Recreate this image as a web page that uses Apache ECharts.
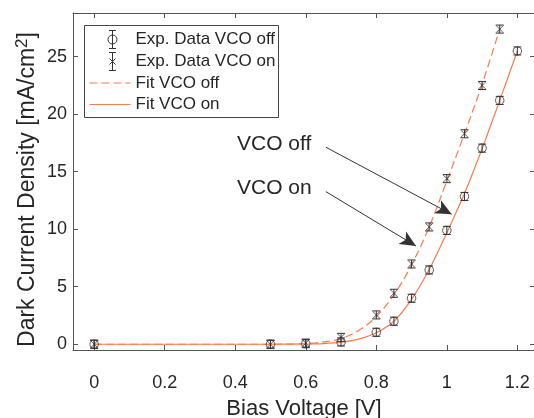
<!DOCTYPE html>
<html>
<head>
<meta charset="utf-8">
<script src="https://cdn.jsdelivr.net/npm/echarts@6/dist/echarts.min.js"></script>
<style>html,body{margin:0;padding:0;background:#fff;}#chart{width:534px;height:418px;}</style>
</head>
<body>
<div id="chart"></div>
<script>
// ---- data ----
const xTicks = [0, 0.2, 0.4, 0.6, 0.8, 1, 1.2];
const yTicks = [0, 5, 10, 15, 20, 25];

const xExpOff = [0, 0.5, 0.6, 0.7, 0.8, 0.85, 0.9, 0.95, 1.0, 1.05, 1.1, 1.15, 1.2];
const expOff  = [0, 0, 0.05, 0.2, 1.04, 2.0, 4.0, 6.46, 9.9, 12.85, 17.05, 21.2, 25.5];
const errOff  = [0.35, 0.35, 0.35, 0.35, 0.35, 0.35, 0.35, 0.35, 0.35, 0.35, 0.35, 0.35, 0.35];

const xExpOn = [0, 0.5, 0.6, 0.7, 0.8, 0.85, 0.9, 0.95, 1.0, 1.05, 1.1, 1.15];
const expOn  = [0, 0, 0.1, 0.6, 2.55, 4.43, 6.98, 10.2, 14.4, 18.3, 22.5, 27.4];
const errOn  = [0.35, 0.35, 0.35, 0.35, 0.35, 0.35, 0.35, 0.35, 0.35, 0.35, 0.35, 0.35];

const xFitOff = [0, 0.5, 0.6, 0.65, 0.7, 0.75, 0.8, 0.85, 0.9, 0.95, 1.0, 1.05, 1.1, 1.15, 1.2];
const fitOff  = [0, 0, 0.02, 0.06, 0.18, 0.45, 1.0, 2.0, 3.9, 6.5, 9.7, 13.1, 17.0, 21.2, 25.5];

const xFitOn = [0, 0.5, 0.6, 0.65, 0.7, 0.75, 0.8, 0.85, 0.9, 0.95, 1.0, 1.05, 1.1, 1.15];
const fitOn  = [0, 0, 0.05, 0.2, 0.5, 1.2, 2.4, 4.3, 6.9, 10.2, 14.2, 18.3, 22.6, 27.4];

const names = ['Exp. Data VCO off', 'Exp. Data VCO on', 'Fit VCO off', 'Fit VCO on'];
const annoText = ['VCO off', 'VCO on'];
const arrowOff = [[0.657, 17.13], [1.0137, 11.3]];
const arrowOn  = [[0.657, 13.27], [0.9125, 8.54]];

// ---- chart ----
const FONT = '"Liberation Sans", Arial, sans-serif';
const TXT = '#262626';
const AX = '#555';
const FITC = '#ff7a4d';
const MK = '#333';

const zip = (xs, ys) => xs.map((x, i) => [x, ys[i]]);
const zip3 = (xs, ys, es) => xs.map((x, i) => [x, ys[i], es[i]]);

function errRender(params, api) {
  const x = api.value(0), y = api.value(1), e = api.value(2);
  const t = api.coord([x, y + e]), b = api.coord([x, y - e]);
  const hw = 4;
  const st = { stroke: MK, lineWidth: 1 };
  return { type: 'group', children: [
    { type: 'line', shape: { x1: t[0], y1: t[1], x2: b[0], y2: b[1] }, style: st },
    { type: 'line', shape: { x1: t[0] - hw, y1: t[1], x2: t[0] + hw, y2: t[1] }, style: st },
    { type: 'line', shape: { x1: b[0] - hw, y1: b[1], x2: b[0] + hw, y2: b[1] }, style: st }
  ]};
}

const xSym = 'path://M0,0 L10,10 M10,0 L0,10';

// legend drawn as graphic elements (positions relative to legend box)
const lst = { stroke: MK, lineWidth: 1, fill: 'none' };
const legendRows = [14, 36, 57.5, 79];
function legendItems() {
  const c = [];
  c.push({ type: 'rect', shape: { x: 0, y: 0, width: 194, height: 92 }, style: { fill: '#fff', stroke: '#444', lineWidth: 1 } });
  let y = legendRows[0];
  c.push({ type: 'line', shape: { x1: 28, y1: y - 9, x2: 28, y2: y + 9 }, style: lst });
  c.push({ type: 'line', shape: { x1: 24.5, y1: y - 9, x2: 31.5, y2: y - 9 }, style: lst });
  c.push({ type: 'line', shape: { x1: 24.5, y1: y + 9, x2: 31.5, y2: y + 9 }, style: lst });
  c.push({ type: 'circle', shape: { cx: 28, cy: y, r: 4.5 }, style: lst });
  y = legendRows[1];
  c.push({ type: 'line', shape: { x1: 28, y1: y - 9, x2: 28, y2: y + 9 }, style: lst });
  c.push({ type: 'line', shape: { x1: 24.5, y1: y - 9, x2: 31.5, y2: y - 9 }, style: lst });
  c.push({ type: 'line', shape: { x1: 24.5, y1: y + 9, x2: 31.5, y2: y + 9 }, style: lst });
  c.push({ type: 'line', shape: { x1: 25, y1: y - 3, x2: 31, y2: y + 3 }, style: lst });
  c.push({ type: 'line', shape: { x1: 31, y1: y - 3, x2: 25, y2: y + 3 }, style: lst });
  c.push({ type: 'line', shape: { x1: 5, y1: legendRows[2], x2: 46, y2: legendRows[2] }, style: { stroke: FITC, lineWidth: 1.2, lineDash: [8, 4] } });
  c.push({ type: 'line', shape: { x1: 5, y1: legendRows[3], x2: 46, y2: legendRows[3] }, style: { stroke: FITC, lineWidth: 1.2 } });
  names.forEach((n, i) => {
    c.push({ type: 'text', x: 51, y: legendRows[i], style: { text: n, font: '17px ' + FONT, fill: TXT, verticalAlign: 'middle' } });
  });
  return c;
}

const chart = echarts.init(document.getElementById('chart'), null, { renderer: 'canvas' });
chart.setOption({
  animation: false,
  backgroundColor: '#fff',
  textStyle: { fontFamily: FONT },
  grid: { left: 73, top: 13, width: 462, bottom: 68, containLabel: false, outerBoundsMode: 'none' },
  xAxis: [{
    type: 'value', position: 'bottom', min: -0.06, max: 1.25,
    name: 'Bias Voltage [V]', nameLocation: 'middle', nameGap: 48, nameMoveOverlap: false,
    nameTextStyle: { fontSize: 22, color: TXT, fontFamily: FONT },
    axisLine: { show: true, onZero: false, lineStyle: { color: AX } },
    axisTick: { show: true, inside: true, length: 5, customValues: xTicks, lineStyle: { color: AX } },
    axisLabel: { customValues: xTicks, fontSize: 18, color: TXT, margin: 24, fontFamily: FONT },
    splitLine: { show: false }
  }, {
    type: 'value', position: 'top', min: -0.06, max: 1.25,
    axisLine: { show: true, onZero: false, lineStyle: { color: AX } },
    axisTick: { show: true, inside: true, length: 5, customValues: xTicks, lineStyle: { color: AX } },
    axisLabel: { show: false }, splitLine: { show: false }
  }],
  yAxis: [{
    type: 'value', position: 'left', min: -0.5, max: 28.8,
    name: '{a|Dark Current Density [mA/cm}{s|2}{a|]}', nameLocation: 'middle', nameGap: 32,
    nameMoveOverlap: false,
    nameTextStyle: {
      color: TXT, fontFamily: FONT, padding: [0, 16, 0, 0],
      rich: {
        a: { fontSize: 23, color: TXT, fontFamily: FONT, lineHeight: 27 },
        s: { fontSize: 17, color: TXT, fontFamily: FONT, verticalAlign: 'top', lineHeight: 27 }
      }
    },
    axisLine: { show: true, onZero: false, lineStyle: { color: AX } },
    axisTick: { show: true, inside: true, length: 5, customValues: yTicks, lineStyle: { color: AX } },
    axisLabel: { customValues: yTicks, fontSize: 18, color: TXT, margin: 6, fontFamily: FONT },
    splitLine: { show: false }
  }, {
    type: 'value', position: 'right', min: -0.5, max: 28.8,
    axisLine: { show: true, onZero: false, lineStyle: { color: AX } },
    axisTick: { show: true, inside: true, length: 5, customValues: yTicks, lineStyle: { color: AX } },
    axisLabel: { show: false }, splitLine: { show: false }
  }],
  series: [
    {
      name: names[2], type: 'line', data: zip(xFitOn, fitOn), symbol: 'none',
      smooth: 0.35,
      lineStyle: { color: FITC, width: 1.2, type: [8, 4] }, itemStyle: { color: FITC }, z: 2,
      markLine: {
        silent: true, symbol: ['none', 'arrow'], symbolSize: [11, 16],
        lineStyle: { color: MK, type: 'solid', width: 1 }, itemStyle: { color: '#111' },
        label: { show: false }, emphasis: { disabled: true },
        data: [
          [{ coord: arrowOff[0] }, { coord: arrowOff[1] }],
          [{ coord: arrowOn[0] }, { coord: arrowOn[1] }]
        ]
      }
    },
    {
      name: names[3], type: 'line', data: zip(xFitOff, fitOff), symbol: 'none',
      smooth: 0.35,
      lineStyle: { color: FITC, width: 1.2, type: 'solid' }, itemStyle: { color: FITC }, z: 2
    },
    {
      name: 'errOff', type: 'custom', renderItem: errRender, data: zip3(xExpOff, expOff, errOff),
      encode: { x: 0, y: 1 }, z: 3, silent: true
    },
    {
      name: 'errOn', type: 'custom', renderItem: errRender, data: zip3(xExpOn, expOn, errOn),
      encode: { x: 0, y: 1 }, z: 3, silent: true
    },
    {
      name: names[0], type: 'scatter', data: zip(xExpOff, expOff), symbol: 'circle', symbolSize: 8.5,
      itemStyle: { color: 'none', borderColor: MK, borderWidth: 1 }, z: 4
    },
    {
      name: names[1], type: 'scatter', data: zip(xExpOn, expOn), symbol: xSym, symbolSize: 7,
      itemStyle: { color: 'none', borderColor: MK, borderWidth: 1 }, z: 4
    }
  ],
  graphic: [
    { type: 'group', x: 84.5, y: 25.5, z: 100, children: legendItems() },
    { type: 'text', x: 237, y: 144, style: { text: annoText[0], font: '21px ' + FONT, fill: TXT, verticalAlign: 'middle' } },
    { type: 'text', x: 237, y: 188, style: { text: annoText[1], font: '21px ' + FONT, fill: TXT, verticalAlign: 'middle' } }
  ]
});
</script>
</body>
</html>
